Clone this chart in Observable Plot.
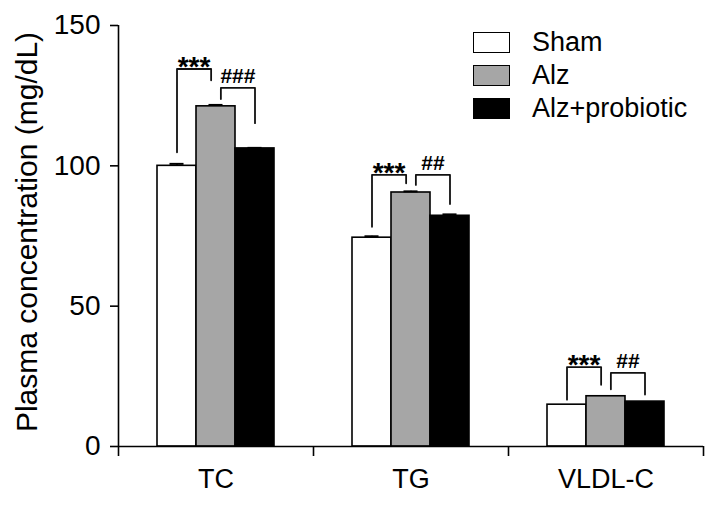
<!DOCTYPE html>
<html>
<head>
<meta charset="utf-8">
<script src="https://cdn.jsdelivr.net/npm/d3@7"></script>
<script src="https://cdn.jsdelivr.net/npm/@observablehq/plot@0.6"></script>
<style>
  html, body { margin: 0; padding: 0; background: white; }
  #wrap { position: relative; width: 719px; height: 505px; font-family: "Liberation Sans", Arial, sans-serif; }
  #legend { position: absolute; left: 473px; top: 32px; }
  .row { display: flex; align-items: center; height: 21px; margin-bottom: 12px; }
  .sw { width: 37px; height: 21px; box-sizing: border-box; border: 1.6px solid #000; margin-right: 22px; }
  .lab { font-size: 27px; color: #000; line-height: 21px; white-space: nowrap; }
</style>
</head>
<body>
<div id="wrap"><div id="legend"></div></div>
<script>
// ---- data ----
const categories = ["TC", "TG", "VLDL-C"];
const groups = ["Sham", "Alz", "Alz+probiotic"];
const fills = ["#ffffff", "#a6a6a6", "#000000"];
const shamValues = [100.0, 74.4, 14.9];
const alzValues = [121.2, 90.5, 17.9];
const probioticValues = [106.2, 82.2, 16.0];
const shamErr = [0.7, 0.5, 0];
const alzErr = [0.5, 0.4, 0];
const probioticErr = [0.2, 0.5, 0];
const yTicks = [0, 50, 100, 150];
const yLabel = "Plasma concentration (mg/dL)";
// significance brackets: category, pair of groups, label, top, left-leg end, right-leg end
const sigCategory = ["TC", "TC", "TG", "TG", "VLDL-C", "VLDL-C"];
const sigFrom = ["Sham", "Alz", "Sham", "Alz", "Sham", "Alz"];
const sigTo = ["Alz", "Alz+probiotic", "Alz", "Alz+probiotic", "Alz", "Alz+probiotic"];
const sigLabel = ["***", "###", "***", "##", "***", "##"];
const sigTop = [134.5, 127.8, 96.8, 96.8, 28.3, 26.2];
const sigLeft = [104.8, 123.8, 78.3, 93.2, 16.7, 20.4];
const sigRight = [130.5, 115.2, 93.8, 86.4, 22.0, 18.5];

// ---- layout constants (fractions of a category band) ----
const groupStart = 0.2, barW = 0.2, legOffset = 0.025, capHalf = 0.036;

const seriesVals = [shamValues, alzValues, probioticValues];
const seriesErr = [shamErr, alzErr, probioticErr];
const bars = [];
categories.forEach((c, k) => groups.forEach((g, j) => {
  const x1 = k + groupStart + j * barW;
  bars.push({cat: c, group: g, x1, x2: x1 + barW, xc: x1 + barW / 2,
             value: seriesVals[j][k], err: seriesErr[j][k]});
}));
const center = (c, g) => bars.find(b => b.cat === c && b.group === g).xc;

const bracketPts = [];
const bracketLabels = [];
sigCategory.forEach((c, i) => {
  const firstPair = sigFrom[i] === "Sham";
  const xa = center(c, sigFrom[i]) + (firstPair ? 0 : legOffset);
  const xb = center(c, sigTo[i]) - (firstPair ? legOffset : 0);
  bracketPts.push({id: i, x: xa, y: sigLeft[i]}, {id: i, x: xa, y: sigTop[i]},
                  {id: i, x: xb, y: sigTop[i]}, {id: i, x: xb, y: sigRight[i]});
  bracketLabels.push({x: (xa + xb) / 2, y: sigTop[i], label: sigLabel[i], star: sigLabel[i].includes("*")});
});
const errBars = bars.filter(b => b.err > 0);

const chart = Plot.plot({
  width: 719, height: 505,
  marginLeft: 118, marginRight: 16, marginTop: 25, marginBottom: 59,
  style: {fontFamily: '"Liberation Sans", Arial, sans-serif', fontSize: "27px", color: "#000", background: "white"},
  x: {domain: [0, 3], axis: null},
  y: {domain: [0, 150], axis: null},
  color: {domain: groups, range: fills},
  marks: [
    Plot.rectY(bars, {x1: "x1", x2: "x2", y: "value", fill: "group", stroke: "#000", strokeWidth: 1.6}),
    Plot.ruleX(errBars, {x: "xc", y1: "value", y2: d => d.value + d.err, stroke: "#000", strokeWidth: 1.5}),
    Plot.ruleY(errBars, {y: d => d.value + d.err, x1: d => d.xc - capHalf, x2: d => d.xc + capHalf, stroke: "#000", strokeWidth: 2}),
    Plot.line(bracketPts, {x: "x", y: "y", z: "id", stroke: "#111", strokeWidth: 1.8}),
    Plot.text(bracketLabels.filter(d => d.star), {x: "x", y: "y", text: "label", lineAnchor: "bottom", dy: 7, fontSize: 28, fontWeight: "bold", fill: "#000"}),
    Plot.text(bracketLabels.filter(d => !d.star), {x: "x", y: "y", text: "label", lineAnchor: "bottom", dy: -5, fontSize: 21, fontWeight: "bold", fill: "#000"}),
    Plot.ruleX([0], {stroke: "#000", strokeWidth: 1.6}),
    Plot.ruleY([0], {stroke: "#000", strokeWidth: 1.6}),
    Plot.axisY({ticks: yTicks, tickSize: 8, tickPadding: 10, fontSize: 28, label: null, strokeWidth: 1.6}),
    Plot.axisX({ticks: [0, 1, 2, 3], tickSize: 10, tickFormat: () => "", label: null, strokeWidth: 1.6}),
    Plot.axisX({ticks: categories.map((c, k) => k + 0.5), tickSize: 0, tickPadding: 22, tickFormat: d => categories[Math.floor(d)], fontSize: 27, label: null}),
    Plot.text([yLabel], {frameAnchor: "left", textAnchor: "middle", rotate: -90, dx: -91, dy: -4, fontSize: 30, fill: "#000"})
  ]
});
const wrap = document.getElementById("wrap");
wrap.insertBefore(chart, wrap.firstChild);

const legend = document.getElementById("legend");
groups.forEach((g, j) => {
  const row = document.createElement("div");
  row.className = "row";
  const sw = document.createElement("div");
  sw.className = "sw";
  sw.style.background = fills[j];
  const lab = document.createElement("div");
  lab.className = "lab";
  lab.textContent = g;
  row.appendChild(sw); row.appendChild(lab);
  legend.appendChild(row);
});
</script>
</body>
</html>
